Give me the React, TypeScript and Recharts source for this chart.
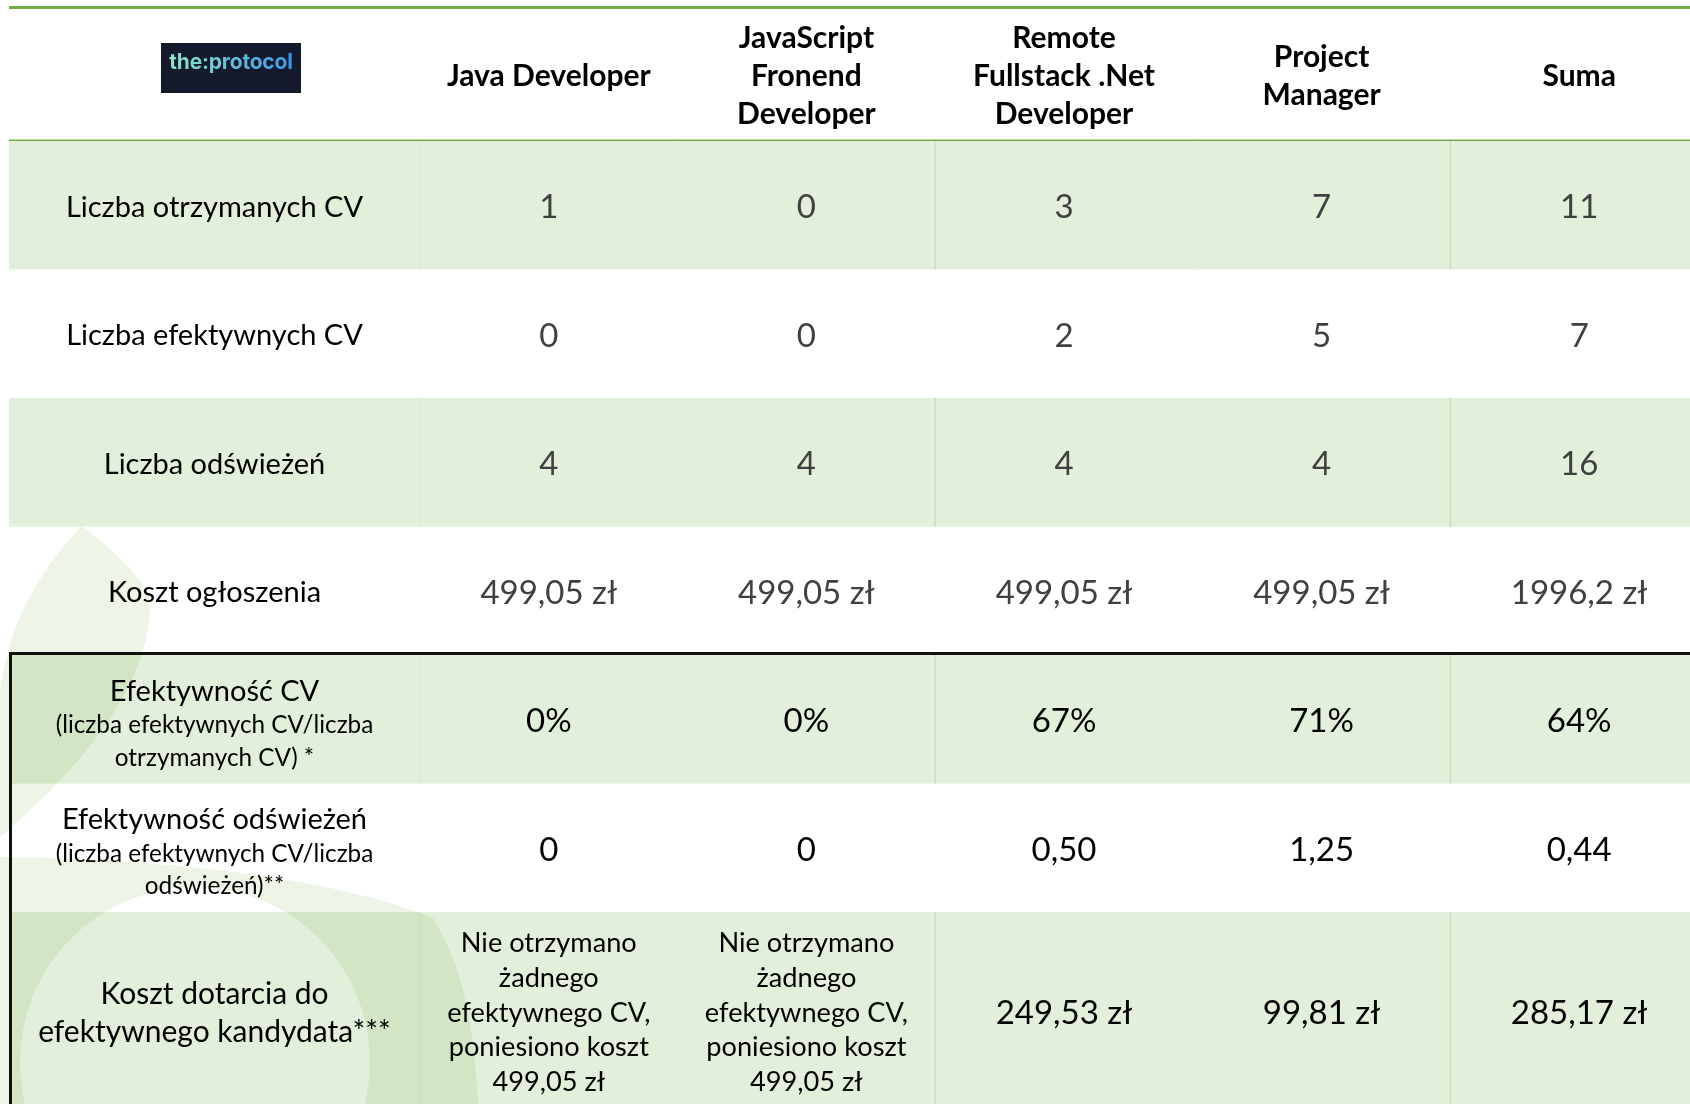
import { ScatterChart, Scatter, XAxis, YAxis, ReferenceLine } from "recharts"

// column headers (line breaks as in the source table)
const COLUMN_HEADERS = [
  ["Java Developer"],
  ["JavaScript", "Fronend", "Developer"],
  ["Remote", "Fullstack .Net", "Developer"],
  ["Project", "Manager"],
  ["Suma"],
]

const ROW_TITLES = [
  ["Liczba otrzymanych CV"],
  ["Liczba efektywnych CV"],
  ["Liczba odświeżeń"],
  ["Koszt ogłoszenia"],
  ["Efektywność CV"],
  ["Efektywność odświeżeń"],
  ["Koszt dotarcia do", "efektywnego kandydata***"],
]

const ROW_NOTES = [
  [],
  [],
  [],
  [],
  ["(liczba efektywnych CV/liczba", "otrzymanych CV) *"],
  ["(liczba efektywnych CV/liczba", "odświeżeń)**"],
  [],
]

const RECEIVED_CV = [1, 0, 3, 7, 11]
const EFFECTIVE_CV = [0, 0, 2, 5, 7]
const REFRESHES = [4, 4, 4, 4, 16]
const AD_COST = [499.05, 499.05, 499.05, 499.05, 1996.2]
const CV_EFFICIENCY = [0, 0, 67, 71, 64]
const REFRESH_EFFICIENCY = [0, 0, 0.5, 1.25, 0.44]
const COST_PER_CANDIDATE: (number | null)[] = [null, null, 249.53, 99.81, 285.17]
const NO_CANDIDATE_TEXT = ["Nie otrzymano", "żadnego", "efektywnego CV,", "poniesiono koszt"]

const pln = (v: number) => `${String(v).replace(".", ",")} zł`
const dec = (v: number) => (v === 0 ? "0" : v.toFixed(2).replace(".", ","))

const CELL_TEXT: string[][][] = [
  RECEIVED_CV.map((v) => [String(v)]),
  EFFECTIVE_CV.map((v) => [String(v)]),
  REFRESHES.map((v) => [String(v)]),
  AD_COST.map((v) => [pln(v)]),
  CV_EFFICIENCY.map((v) => [`${v}%`]),
  REFRESH_EFFICIENCY.map((v) => [dec(v)]),
  COST_PER_CANDIDATE.map((v, i) => (v == null ? [...NO_CANDIDATE_TEXT, pln(AD_COST[i])] : [pln(v)])),
]

// layout
const CHART_W = 1708
const LABEL_W = 420
const HEADER_H = 141
const ROW_H = 128.5
const TABLE_LEFT = 9
const BORDER_ROW = 4 // the framed block starts here
const ROW_SPANS = [1, 1, 1, 1, 1, 1, 1.54]
const ROW_STARTS = ROW_SPANS.map((_, i) => ROW_SPANS.slice(0, i).reduce((a, b) => a + b, 0))
const TOTAL = ROW_SPANS.reduce((a, b) => a + b, 0)
const ROW_CENTERS = ROW_STARTS.map((s, i) => s + ROW_SPANS[i] / 2)
const CHART_H = Math.ceil(HEADER_H + TOTAL * ROW_H)
const COL_W = (CHART_W - LABEL_W) / COLUMN_HEADERS.length
const LEFT_EDGE = -(LABEL_W - TABLE_LEFT) / COL_W
const TOP_RULE = -(HEADER_H - 7.5) / ROW_H

const FONT = "Lato, 'Noto Sans', sans-serif"
const GREEN_FILL = "#e2efda"
const RULE = "#70ad47"
const DIVIDER = "#c8deb8"

const cells = CELL_TEXT.flatMap((rowCells, row) =>
  rowCells.map((lines, col) => ({ x: col + 0.5, y: ROW_CENTERS[row], row, col, lines }))
)

function TableCell(props: any) {
  const { cx, cy, payload } = props
  const { row, col, lines } = payload
  const h = ROW_SPANS[row] * ROW_H
  const top = cy - h / 2
  const left = cx - COL_W / 2
  const shaded = row % 2 === 0
  const multi = lines.length > 1
  const size = multi ? 27.2 : 33
  const lh = 34.9
  const color = row < 4 ? "#404040" : "#000"
  return (
    <g>
      {shaded && <rect x={left - 0.5} y={top} width={COL_W + 1} height={h} fill={GREEN_FILL} />}
      {shaded && col % 2 === 0 && (
        <line x1={left} x2={left} y1={top} y2={top + h} stroke={DIVIDER} strokeWidth={1.5} />
      )}
      {lines.map((t: string, i: number) => (
        <text
          key={i}
          x={cx}
          y={cy + (i - (lines.length - 1) / 2) * lh}
          textAnchor="middle"
          dominantBaseline="central"
          fontFamily={FONT}
          fontSize={size}
          fill={color}
        >
          {t}
        </text>
      ))}
    </g>
  )
}

function RowLabel(props: any) {
  const { y, payload } = props
  const row = ROW_CENTERS.indexOf(payload.value)
  if (row < 0) return null
  const h = ROW_SPANS[row] * ROW_H
  const cx = (TABLE_LEFT + LABEL_W) / 2
  const titles = ROW_TITLES[row]
  const notes = ROW_NOTES[row]
  const items: { t: string; y: number; size: number }[] = []
  if (notes.length) {
    items.push({ t: titles[0], y: y - 30, size: 29 })
    notes.forEach((n, i) => items.push({ t: n, y: y + 4.5 + i * 32.5, size: 24.3 }))
  } else {
    const size = titles.length > 1 ? 30 : 29
    titles.forEach((t, i) => items.push({ t, y: y + (i - (titles.length - 1) / 2) * 37.7, size }))
  }
  // keep clear of the frame's left border
  const bgLeft = row >= BORDER_ROW ? TABLE_LEFT + 3 : TABLE_LEFT
  return (
    <g>
      {row % 2 === 0 && (
        <rect x={bgLeft} y={y - h / 2} width={LABEL_W - bgLeft + 0.5} height={h} fill={GREEN_FILL} />
      )}
      {items.map((it, i) => (
        <text
          key={i}
          x={cx}
          y={it.y}
          textAnchor="middle"
          dominantBaseline="central"
          fontFamily={FONT}
          fontSize={it.size}
          fill="#000"
        >
          {it.t}
        </text>
      ))}
    </g>
  )
}

function HeaderLabel(props: any) {
  const { x, index } = props
  const lines = COLUMN_HEADERS[index] ?? []
  return (
    <g>
      {lines.map((t, i) => (
        <text
          key={i}
          x={x}
          y={73.5 + (i - (lines.length - 1) / 2) * 38}
          textAnchor="middle"
          dominantBaseline="central"
          fontFamily={FONT}
          fontSize={30}
          fontWeight={700}
          fill="#000"
        >
          {t}
        </text>
      ))}
    </g>
  )
}

const FRAME_Y = BORDER_ROW - 1.5 / ROW_H
const FRAME_X = LEFT_EDGE + 1.5 / COL_W

export default function App() {
  return (
    <div
      style={{
        position: "fixed",
        left: 0,
        top: 0,
        width: 1690,
        height: 1104,
        overflow: "hidden",
        background: "#fff",
        fontFamily: FONT,
      }}
    >
      <div style={{ position: "absolute", left: 0, top: 0 }}>
        <ScatterChart width={CHART_W} height={CHART_H} margin={{ top: 0, right: 0, bottom: 0, left: 0 }}>
          <XAxis
            type="number"
            dataKey="x"
            orientation="top"
            height={HEADER_H}
            domain={[0, COLUMN_HEADERS.length]}
            ticks={COLUMN_HEADERS.map((_, i) => i + 0.5)}
            interval={0}
            allowDataOverflow
            axisLine={false}
            tickLine={false}
            tick={<HeaderLabel />}
          />
          <YAxis
            type="number"
            dataKey="y"
            width={LABEL_W}
            domain={[0, TOTAL]}
            reversed
            ticks={ROW_CENTERS}
            interval={0}
            allowDataOverflow
            axisLine={false}
            tickLine={false}
            tick={<RowLabel />}
          />
          <Scatter data={cells} shape={<TableCell />} isAnimationActive={false} legendType="none" />
          <ReferenceLine
            segment={[{ x: LEFT_EDGE, y: TOP_RULE }, { x: COLUMN_HEADERS.length, y: TOP_RULE }]}
            stroke={RULE}
            strokeWidth={3}
            ifOverflow="visible"
          />
          <ReferenceLine
            segment={[{ x: LEFT_EDGE, y: 0 }, { x: COLUMN_HEADERS.length, y: 0 }]}
            stroke={RULE}
            strokeWidth={3}
            ifOverflow="visible"
          />
          <ReferenceLine
            segment={[{ x: LEFT_EDGE, y: FRAME_Y }, { x: COLUMN_HEADERS.length, y: FRAME_Y }]}
            stroke="#111"
            strokeWidth={3}
            ifOverflow="visible"
          />
          <ReferenceLine
            segment={[{ x: FRAME_X, y: FRAME_Y }, { x: FRAME_X, y: TOTAL }]}
            stroke="#111"
            strokeWidth={3}
            ifOverflow="visible"
          />
        </ScatterChart>
      </div>
      {/* faint background watermark */}
      <svg
        width={1690}
        height={1104}
        style={{ position: "absolute", left: 0, top: 0, mixBlendMode: "multiply", pointerEvents: "none" }}
      >
        <path
          d="M82 526 C120 555 150 585 150 605 C150 680 90 760 0 837 L0 690 C10 620 40 570 82 526 Z"
          fill="#edf5e7"
        />
        <path
          fillRule="evenodd"
          d="M0 857 C130 858 320 872 433 918 C470 980 485 1050 480 1300 L0 1300 Z M20 1062 a175 175 0 1 0 350 0 a175 175 0 1 0 -350 0 Z"
          fill="#edf5e7"
        />
      </svg>
      <div
        style={{
          position: "absolute",
          left: 161,
          top: 43,
          width: 140,
          height: 50,
          background: "#141a2b",
          display: "flex",
          alignItems: "flex-start",
          justifyContent: "center",
          paddingTop: 6,
          boxSizing: "border-box",
        }}
      >
        <span
          style={{
            fontFamily: "Inter, sans-serif",
            fontWeight: 700,
            fontSize: 21,
            lineHeight: "26px",
            letterSpacing: -0.2,
            background: "linear-gradient(90deg, #8ee6c4, #3d97ea)",
            WebkitBackgroundClip: "text",
            backgroundClip: "text",
            color: "transparent",
          }}
        >
          the:protocol
        </span>
      </div>
    </div>
  )
}
